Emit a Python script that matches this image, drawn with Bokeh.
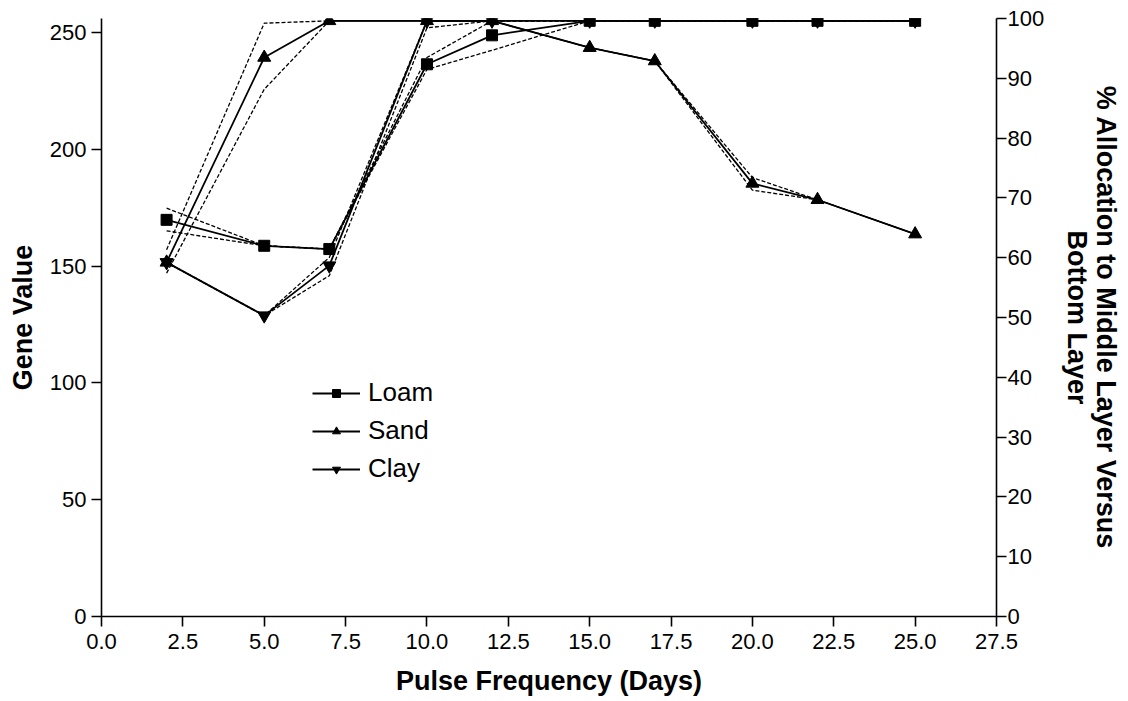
from bokeh.plotting import figure
from bokeh.models import (LinearAxis, Range1d, FixedTicker, PrintfTickFormatter,
                          Legend, LegendItem)
from bokeh.embed import file_html
from bokeh.resources import INLINE

# ---- data ----
days = [2, 5, 7, 10, 12, 15, 17, 20, 22, 25]

loam = [169.8, 158.7, 157.3, 236.4, 248.8, 255, 255, 255, 255, 255]
loam_hi = [174.8, 158.7, 157.3, 239.3, 255, 255, 255, 255, 255, 255]
loam_lo = [165.1, 158.7, 157.3, 234.2, 242.4, 255, 255, 255, 255, 255]

sand = [151.6, 239.3, 255, 255, 255, 243.5, 237.8, 185.4, 178.4, 163.7]
sand_hi = [157.0, 254.0, 255, 255, 255, 243.5, 237.8, 187.9, 178.4, 163.7]
sand_lo = [147.0, 225.7, 255, 255, 255, 243.5, 237.8, 182.5, 178.4, 163.7]

clay = [151.6, 128.8, 150.2, 255, 255, 255, 255, 255, 255, 255]
clay_hi = [151.6, 128.8, 153.7, 255, 255, 255, 255, 255, 255, 255]
clay_lo = [151.6, 128.8, 145.9, 252.0, 255, 255, 255, 255, 255, 255]

x_ticks = [0, 2.5, 5, 7.5, 10, 12.5, 15, 17.5, 20, 22.5, 25, 27.5]
left_ticks = [0, 50, 100, 150, 200, 250]
right_ticks = [0, 10, 20, 30, 40, 50, 60, 70, 80, 90, 100]

FONT = "Liberation Sans"

p = figure(width=1120, height=693, frame_width=895, frame_height=598,
           x_range=Range1d(0, 27.5), y_range=Range1d(0, 256),
           output_backend="svg", toolbar_location=None,
           min_border_left=101, min_border_top=18, min_border_right=124,
           min_border_bottom=77)
p.outline_line_color = None
p.grid.visible = False
p.background_fill_color = "white"
p.border_fill_color = "white"

p.extra_y_ranges = {"pct": Range1d(0, 100)}
right = LinearAxis(y_range_name="pct")
p.add_layout(right, "right")

def style_axis(ax):
    ax.axis_line_color = "black"
    ax.axis_line_width = 1.6
    ax.major_tick_line_color = "black"
    ax.major_tick_line_width = 1.6
    ax.major_tick_out = 10
    ax.major_tick_in = 0
    ax.minor_tick_line_color = None
    ax.major_label_text_font = FONT
    ax.major_label_text_font_size = "22px"
    ax.major_label_text_color = "black"
    ax.axis_label_text_font = FONT
    ax.axis_label_text_font_size = "27px"
    ax.axis_label_text_font_style = "bold"
    ax.axis_label_text_color = "black"

style_axis(p.xaxis[0])
style_axis(p.yaxis[0])
style_axis(right)

p.xaxis[0].ticker = FixedTicker(ticks=x_ticks)
p.xaxis[0].formatter = PrintfTickFormatter(format="%.1f")
p.xaxis[0].axis_label = "Pulse Frequency (Days)"
p.xaxis[0].axis_label_standoff = 14
p.xaxis[0].major_label_standoff = 7

p.yaxis[0].ticker = FixedTicker(ticks=left_ticks)
p.yaxis[0].axis_label = "Gene Value"
p.yaxis[0].axis_label_standoff = 9
p.yaxis[0].major_label_standoff = 5

right.ticker = FixedTicker(ticks=right_ticks)
right.axis_label = "% Allocation to Middle Layer Versus\nBottom Layer"
right.axis_label_standoff = 15
right.axis_label_text_line_height = 0.95
right.major_label_standoff = 1

dash = "4 2"
for hi, lo in [(loam_hi, loam_lo), (sand_hi, sand_lo), (clay_hi, clay_lo)]:
    p.line(days, hi, line_color="black", line_width=1.3, line_dash=dash)
    p.line(days, lo, line_color="black", line_width=1.3, line_dash=dash)

r_clay_l = p.line(days, clay, line_color="black", line_width=1.8)
r_sand_l = p.line(days, sand, line_color="black", line_width=1.8)
r_loam_l = p.line(days, loam, line_color="black", line_width=1.8)

# smaller markers (used for legend symbols; hidden beneath the data markers)
lg_clay = p.scatter(days, clay, marker="inverted_triangle", size=10, color="black")
lg_sand = p.scatter(days, sand, marker="triangle", size=10, color="black")
lg_loam = p.scatter(days, loam, marker="square", size=8, color="black")

r_clay_m = p.scatter(days, clay, marker="inverted_triangle", size=13, color="black")
r_sand_m = p.scatter(days, sand, marker="triangle", size=13, color="black")
r_loam_m = p.scatter(days, loam, marker="square", size=11, color="black")

legend = Legend(items=[
    LegendItem(label="Loam", renderers=[r_loam_l, lg_loam]),
    LegendItem(label="Sand", renderers=[r_sand_l, lg_sand]),
    LegendItem(label="Clay", renderers=[r_clay_l, lg_clay]),
], location=(211, 132))
legend.border_line_color = None
legend.background_fill_alpha = 0
legend.label_text_font = FONT
legend.label_text_font_size = "26px"
legend.label_text_color = "black"
legend.glyph_width = 48
legend.glyph_height = 20
legend.spacing = 7
legend.label_standoff = 8
legend.padding = 4
legend.margin = 0
p.add_layout(legend, "center")

open("out.html", "w").write(file_html(p, INLINE))
